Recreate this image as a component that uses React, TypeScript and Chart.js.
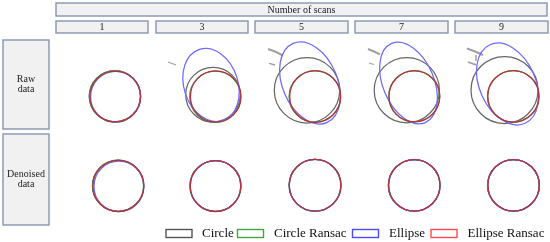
import React, { useEffect, useRef } from "react";
import { Chart, registerables } from "chart.js";

Chart.register(...registerables);

// ---------- data ----------
const headerTitle = "Number of scans";
const scanCounts = ["1", "3", "5", "7", "9"];
const rowLabels = [["Raw", "data"], ["Denoised", "data"]];
const methodNames = ["Circle", "Circle Ransac", "Ellipse", "Ellipse Ransac"];
const methodColors = ["#666666", "#3f9a3f", "#6a6aff", "#b8303a"];
const legendColors = ["#555555", "#3fa93f", "#4a4aff", "#ff4a4a"];

// Raw data fits (centre x, centre y, semi-axes a/b, rotation in degrees)
const rawCircleX = [115.0, 213.0, 307.0, 406.8, 504.5];
const rawCircleY = [96.3, 94.7, 90.3, 90.2, 90.0];
const rawCircleR = [25.6, 27.3, 32.7, 32.6, 33.5];

const rawCircleRansacX = [114.8, 215.2, 314.8, 414.2, 513.2];
const rawCircleRansacY = [96.2, 96.7, 96.5, 96.3, 96.3];
const rawCircleRansacR = [25.6, 25.5, 25.7, 25.5, 25.7];

const rawEllipseX = [115.6, 211.0, 310.0, 408.5, 507.5];
const rawEllipseY = [96.7, 85.0, 83.0, 83.0, 84.0];
const rawEllipseA = [25.4, 37.5, 43.0, 43.0, 43.0];
const rawEllipseB = [25.0, 27.0, 27.5, 25.5, 28.0];
const rawEllipseAngle = [90, 72, 67, 67, 66];

const rawEllipseRansacX = [115.2, 215.7, 315.2, 414.4, 513.4];
const rawEllipseRansacY = [96.5, 96.5, 96.5, 96.3, 96.3];
const rawEllipseRansacA = [25.4, 25.6, 25.8, 25.6, 25.8];
const rawEllipseRansacB = [25.4, 25.3, 25.5, 25.4, 25.6];
const rawEllipseRansacAngle = [90, 90, 90, 90, 90];

// Denoised data fits
const denCircleX = [118.2, 215.5, 315.0, 414.2, 513.5];
const denCircleY = [185.8, 186.0, 185.2, 185.3, 185.3];
const denCircleR = [25.6, 25.4, 25.9, 25.8, 25.8];

const denCircleRansacX = [118.0, 215.3, 315.1, 414.1, 513.4];
const denCircleRansacY = [185.7, 185.9, 185.3, 185.4, 185.3];
const denCircleRansacR = [25.6, 25.4, 25.9, 25.8, 25.8];

const denEllipseX = [118.9, 215.6, 315.0, 414.3, 513.5];
const denEllipseY = [186.4, 186.0, 185.2, 185.3, 185.3];
const denEllipseA = [25.2, 25.4, 25.9, 25.8, 25.8];
const denEllipseB = [24.9, 25.3, 25.8, 25.7, 25.8];
const denEllipseAngle = [90, 90, 90, 90, 90];

const denEllipseRansacX = [118.3, 215.5, 315.1, 414.3, 513.6];
const denEllipseRansacY = [185.9, 186.0, 185.3, 185.3, 185.3];
const denEllipseRansacA = [25.6, 25.5, 25.9, 25.8, 25.8];
const denEllipseRansacB = [25.5, 25.3, 25.8, 25.7, 25.7];
const denEllipseRansacAngle = [90, 90, 90, 90, 90];

// Outlier strokes in the raw scans (each a short run of points)
const noiseStrokesX = [
  [168, 172, 176],
  [268, 275, 283],
  [269, 275],
  [368, 374, 380],
  [369, 374],
  [467, 475, 483],
  [476, 476],
  [468, 476],
];
const noiseStrokesY = [
  [62, 63.5, 65],
  [49, 51.5, 55.5],
  [63.3, 65],
  [49, 51.5, 54.3],
  [63, 64.5],
  [48.5, 51.5, 55],
  [55, 61],
  [62, 64.8],
];
const noiseStrokeWidth = [1.3, 2, 1.3, 2, 1.3, 2.2, 1.5, 1.8];

// ---------- layout (positions, not data) ----------
const W = 550;
const H = 242;
const titleBox = { x: 56, y: 3, w: 491, h: 13 };
const colBoxes = [
  { x: 56, y: 21, w: 92, h: 12 },
  { x: 156, y: 21, w: 92, h: 12 },
  { x: 255, y: 21, w: 93, h: 12 },
  { x: 355, y: 21, w: 93, h: 12 },
  { x: 455, y: 21, w: 93, h: 12 },
];
const rowBoxes = [
  { x: 3, y: 40, w: 46, h: 89 },
  { x: 3, y: 134, w: 46, h: 91 },
];
const legendItems = [
  { bx: 166, tx: 202 },
  { bx: 237.5, tx: 274 },
  { bx: 352.5, tx: 389 },
  { bx: 431, tx: 467.5 },
];
const legendY = 229.5;

const FONT = '"Liberation Serif", "Times New Roman", serif';

function fitSet(x, y, a, b, ang) {
  return { x, y, a, b: b || a, ang: ang || a.map(() => 0) };
}

const fits = [
  [
    fitSet(rawCircleX, rawCircleY, rawCircleR),
    fitSet(rawCircleRansacX, rawCircleRansacY, rawCircleRansacR),
    fitSet(rawEllipseX, rawEllipseY, rawEllipseA, rawEllipseB, rawEllipseAngle),
    fitSet(rawEllipseRansacX, rawEllipseRansacY, rawEllipseRansacA, rawEllipseRansacB, rawEllipseRansacAngle),
  ],
  [
    fitSet(denCircleX, denCircleY, denCircleR),
    fitSet(denCircleRansacX, denCircleRansacY, denCircleRansacR),
    fitSet(denEllipseX, denEllipseY, denEllipseA, denEllipseB, denEllipseAngle),
    fitSet(denEllipseRansacX, denEllipseRansacY, denEllipseRansacA, denEllipseRansacB, denEllipseRansacAngle),
  ],
];

function drawBox(ctx, b) {
  ctx.save();
  ctx.fillStyle = "#f1f1f1";
  ctx.strokeStyle = "#8795b2";
  ctx.lineWidth = 1.4;
  ctx.fillRect(b.x, b.y, b.w, b.h);
  ctx.strokeRect(b.x, b.y, b.w, b.h);
  ctx.restore();
}

const framePlugin = {
  id: "frame",
  beforeDatasetsDraw(chart) {
    const ctx = chart.ctx;
    ctx.save();
    ctx.textAlign = "center";
    ctx.textBaseline = "middle";
    ctx.fillStyle = "#222";
    ctx.font = `10px ${FONT}`;
    drawBox(ctx, titleBox);
    ctx.fillText(headerTitle, titleBox.x + titleBox.w / 2, titleBox.y + titleBox.h / 2 + 0.5);
    colBoxes.forEach((b, i) => {
      drawBox(ctx, b);
      ctx.fillText(scanCounts[i], b.x + b.w / 2, b.y + b.h / 2 + 0.5);
    });
    rowBoxes.forEach((b, i) => {
      drawBox(ctx, b);
      const lines = rowLabels[i];
      const lh = 10;
      const cy = b.y + b.h / 2 - ((lines.length - 1) * lh) / 2;
      lines.forEach((t, k) => ctx.fillText(t, b.x + b.w / 2, cy + k * lh));
    });
    ctx.restore();
  },
  afterDatasetsDraw(chart) {
    const ctx = chart.ctx;
    const xs = chart.scales.x;
    const ys = chart.scales.y;
    ctx.save();
    fits.forEach((row) => {
      row.forEach((set, m) => {
        ctx.strokeStyle = methodColors[m];
        ctx.lineWidth = 1.25;
        set.x.forEach((cx, i) => {
          const px = xs.getPixelForValue(cx);
          const py = ys.getPixelForValue(set.y[i]);
          const ra = Math.abs(xs.getPixelForValue(cx + set.a[i]) - px);
          const rb = Math.abs(xs.getPixelForValue(cx + set.b[i]) - px);
          ctx.beginPath();
          ctx.ellipse(px, py, ra, rb, (set.ang[i] * Math.PI) / 180, 0, Math.PI * 2);
          ctx.stroke();
        });
      });
    });
    // legend
    ctx.font = `13px ${FONT}`;
    ctx.textAlign = "left";
    ctx.textBaseline = "middle";
    legendItems.forEach((it, i) => {
      ctx.strokeStyle = legendColors[i];
      ctx.lineWidth = 1.4;
      ctx.fillStyle = "#fff";
      ctx.fillRect(it.bx, legendY, 26, 8);
      ctx.strokeRect(it.bx, legendY, 26, 8);
      ctx.fillStyle = "#111";
      ctx.fillText(methodNames[i], it.tx, legendY + 4.5);
    });
    ctx.restore();
  },
};

export default function App() {
  const ref = useRef(null);
  useEffect(() => {
    const chart = new Chart(ref.current, {
      type: "scatter",
      data: {
        datasets: noiseStrokesX.map((xs, s) => ({
          label: "Outliers " + s,
          data: xs.map((x, i) => ({ x, y: noiseStrokesY[s][i] })),
          showLine: true,
          borderColor: "rgba(120,120,120,0.7)",
          borderWidth: noiseStrokeWidth[s],
          pointRadius: 0,
        })),
      },
      options: {
        animation: false,
        responsive: false,
        maintainAspectRatio: false,
        layout: { padding: 0 },
        plugins: { legend: { display: false }, tooltip: { enabled: false } },
        scales: {
          x: { type: "linear", min: 0, max: W, display: false },
          y: { type: "linear", min: 0, max: H, reverse: true, display: false },
        },
      },
      plugins: [framePlugin],
    });
    return () => chart.destroy();
  }, []);
  return (
    <div style={{ position: "absolute", left: 0, top: 0, width: W, height: H, background: "#fff" }}>
      <canvas ref={ref} width={W} height={H} style={{ width: W, height: H, display: "block" }} />
    </div>
  );
}
